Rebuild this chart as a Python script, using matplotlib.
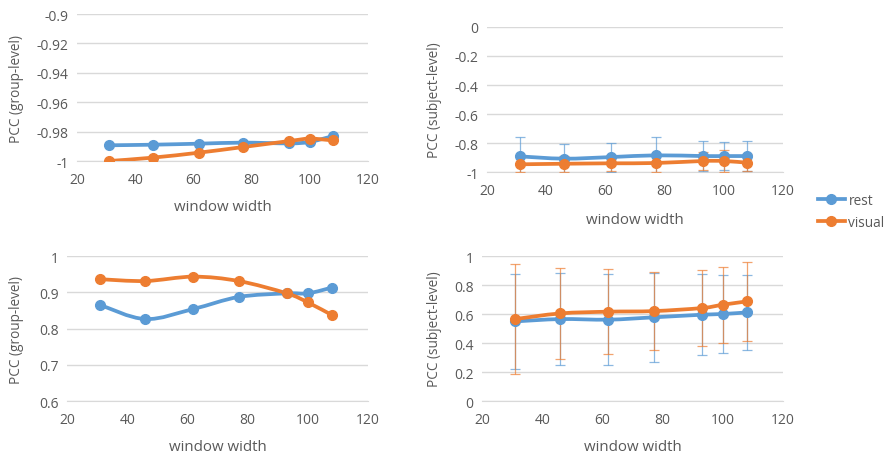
import matplotlib
matplotlib.use('Agg')
import matplotlib.pyplot as plt
from matplotlib.path import Path
from matplotlib.patches import PathPatch

plt.rcParams['font.family'] = ['Open Sans', 'DejaVu Sans']

# window widths (x)
window = [31, 46, 62, 77, 93, 100, 108]

# group-level PCC, first task pair (top left)
tl_rest = [-0.9893, -0.9889, -0.9882, -0.9875, -0.9880, -0.9870, -0.9830]
tl_visual = [-1.0000, -0.9977, -0.9943, -0.9905, -0.9864, -0.9848, -0.9860]

# subject-level PCC (top right) with error bars
tr_rest = [-0.892, -0.908, -0.897, -0.885, -0.890, -0.890, -0.890]
tr_rest_err = [0.133, 0.100, 0.100, 0.126, 0.104, 0.097, 0.104]
tr_visual = [-0.947, -0.943, -0.940, -0.938, -0.924, -0.924, -0.936]
tr_visual_err = [0.055, 0.055, 0.055, 0.060, 0.065, 0.075, 0.060]

# group-level PCC (bottom left)
bl_rest = [0.865, 0.826, 0.854, 0.887, 0.897, 0.897, 0.913]
bl_visual = [0.936, 0.931, 0.943, 0.931, 0.897, 0.872, 0.837]

# subject-level PCC (bottom right) with error bars
br_rest = [0.549, 0.565, 0.561, 0.577, 0.595, 0.600, 0.611]
br_rest_err = [0.325, 0.315, 0.315, 0.305, 0.280, 0.270, 0.260]
br_visual = [0.565, 0.604, 0.616, 0.620, 0.641, 0.664, 0.687]
br_visual_err = [0.380, 0.315, 0.295, 0.268, 0.265, 0.262, 0.270]

BLUE = '#5B9BD5'
ORANGE = '#ED7D31'
TXT = '#595959'
GRID = '#D9D9D9'
LW = 2.7
MS = 7


def smooth_path(xs, ys):
    # bezier curve through the points, like excel "smoothed line"
    n = len(xs)
    verts = [(xs[0], ys[0])]
    codes = [Path.MOVETO]
    for i in range(n - 1):
        i0 = max(i - 1, 0)
        i3 = min(i + 2, n - 1)
        c1 = (xs[i] + (xs[i + 1] - xs[i0]) / 6, ys[i] + (ys[i + 1] - ys[i0]) / 6)
        c2 = (xs[i + 1] - (xs[i3] - xs[i]) / 6, ys[i + 1] - (ys[i3] - ys[i]) / 6)
        verts += [c1, c2, (xs[i + 1], ys[i + 1])]
        codes += [Path.CURVE4] * 3
    return Path(verts, codes)


def draw_series(ax, ys, color, err=None):
    if err is not None:
        ax.errorbar(window, ys, yerr=err, fmt='none', ecolor=color, elinewidth=0.9,
                    capsize=3.5, capthick=0.9, alpha=0.7, zorder=3)
    ax.add_patch(PathPatch(smooth_path(window, ys), fill=False, edgecolor=color,
                           lw=LW, zorder=4, capstyle='round'))
    ax.plot(window, ys, 'o', color=color, ms=MS, zorder=5)


def style_axes(ax, ylim, yticks, ylabel, ylab_x, xlab_y):
    ax.set_xlim(20, 120)
    ax.set_ylim(*ylim)
    ax.set_xticks([20, 40, 60, 80, 100, 120])
    ax.set_yticks(yticks)
    ax.set_yticklabels([fmt(v) for v in yticks])
    ax.grid(axis='y', color=GRID, lw=1)
    ax.set_axisbelow(True)
    for s in ['top', 'right', 'left']:
        ax.spines[s].set_visible(False)
    ax.spines['bottom'].set_color(GRID)
    ax.tick_params(length=0, labelsize=10, colors=TXT)
    ax.tick_params(axis='x', pad=8)
    ax.tick_params(axis='y', pad=6)
    ax.set_xlabel('window width', fontsize=10.8, color=TXT)
    ax.set_ylabel(ylabel, fontsize=9.8, color=TXT)
    ax.yaxis.set_label_coords(ylab_x, 0.5)
    ax.xaxis.set_label_coords(0.5, xlab_y)
    for t in ax.get_xticklabels() + ax.get_yticklabels():
        t.set_clip_on(False)


def fmt(v):
    s = ('%.2f' % v).rstrip('0').rstrip('.')
    return '0' if s in ('-0', '0') else s


fig = plt.figure(figsize=(8.88, 4.56), dpi=100)

ax1 = fig.add_axes([0.0867, 0.6447, 0.3277, 0.3224])
draw_series(ax1, tl_rest, BLUE)
draw_series(ax1, tl_visual, ORANGE)
style_axes(ax1, (-1.0, -0.9), [-1.0, -0.98, -0.96, -0.94, -0.92, -0.9],
           'PCC (group-level)', -0.182, -0.26)

ax2 = fig.add_axes([0.5484, 0.6206, 0.3333, 0.318])
draw_series(ax2, tr_rest, BLUE, tr_rest_err)
draw_series(ax2, tr_visual, ORANGE, tr_visual_err)
style_axes(ax2, (-1.0, 0.0), [-1.0, -0.8, -0.6, -0.4, -0.2, 0.0],
           'PCC (subject-level)', -0.152, -0.275)

ax3 = fig.add_axes([0.0755, 0.1184, 0.339, 0.318])
draw_series(ax3, bl_rest, BLUE)
draw_series(ax3, bl_visual, ORANGE)
style_axes(ax3, (0.6, 1.0), [0.6, 0.7, 0.8, 0.9, 1.0], 'PCC (group-level)',
           -0.143, -0.265)

ax4 = fig.add_axes([0.5428, 0.1184, 0.339, 0.318])
draw_series(ax4, br_rest, BLUE, br_rest_err)
draw_series(ax4, br_visual, ORANGE, br_visual_err)
style_axes(ax4, (0.0, 1.0), [0.0, 0.2, 0.4, 0.6, 0.8, 1.0], 'PCC (subject-level)',
           -0.133, -0.265)

# shared legend on the right
h_rest, = ax4.plot([], [], '-o', color=BLUE, lw=LW, ms=MS)
h_vis, = ax4.plot([], [], '-o', color=ORANGE, lw=LW, ms=MS)
leg = fig.legend([h_rest, h_vis], ['rest', 'visual'], loc='center left',
                 bbox_to_anchor=(0.921, 0.534), frameon=False, fontsize=9.8,
                 handlelength=2.0, handletextpad=0.25, labelspacing=0.5,
                 borderpad=0, borderaxespad=0)
for t in leg.get_texts():
    t.set_color(TXT)

fig.savefig('out.png', dpi=100)
